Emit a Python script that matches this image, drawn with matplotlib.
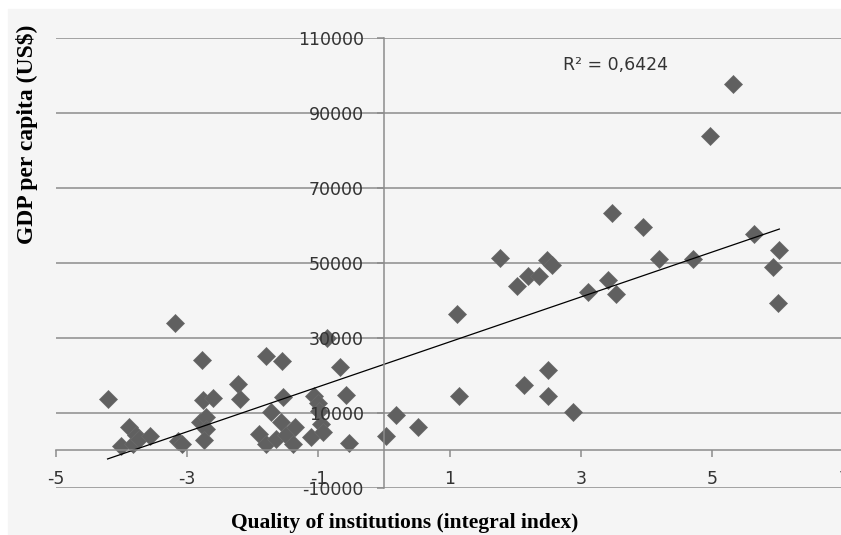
import numpy as np
import matplotlib
matplotlib.use("Agg")
import matplotlib.pyplot as plt
from matplotlib.patches import Rectangle

# quality of institutions (integral index) vs GDP per capita
quality = [
    -4.21, -4.00, -3.88, -3.83, -3.78, -3.73, -3.56, -3.18, -3.14, -3.08,
    -2.81, -2.77, -2.75, -2.71, -2.71, -2.74, -2.61, -2.23, -2.19, -1.90,
    -1.80, -1.79, -1.72, -1.64, -1.57, -1.55, -1.54, -1.49, -1.39, -1.36,
    -1.11, -1.06, -1.01, -0.99, -0.96, -0.93, -0.87, -0.67, -0.58, -0.53,
    0.03, 0.18, 0.52, 1.11, 1.14, 1.77, 2.03, 2.13, 2.19, 2.36,
    2.48, 2.49, 2.49, 2.56, 2.88, 3.11, 3.41, 3.47, 3.53, 3.95,
    4.19, 4.71, 4.96, 5.32, 5.63, 5.93, 6.02, 6.00,
]
gdp = [
    13600, 1100, 6200, 1800, 4000, 3000, 3800, 34000, 2500, 1600,
    7600, 24000, 13500, 8900, 5800, 2700, 14000, 17800, 13600, 4400,
    1800, 25100, 10200, 3100, 7600, 23800, 14200, 4000, 1800, 6200,
    3600, 14400, 12500, 10500, 7100, 4900, 30100, 22100, 14700, 1900,
    3700, 9500, 6200, 36300, 14600, 51400, 43800, 17500, 46500, 46500,
    50700, 21400, 14600, 49400, 10200, 42300, 45500, 63400, 41700, 59500,
    51100, 51100, 84000, 97700, 57700, 48800, 53400, 39200,
]
r2_label = "R\u00b2 = 0,6424"
x_ticks = [-5, -3, -1, 1, 3, 5, 7]
y_ticks = [-10000, 10000, 30000, 50000, 70000, 90000, 110000]

quality = np.array(quality)
gdp = np.array(gdp)

fig = plt.figure(figsize=(8.41, 5.35), dpi=100)
fig.patches.append(Rectangle((8 / 841, 0), 1, (535 - 9) / 535,
                             transform=fig.transFigure, color="#f5f5f5", zorder=-10))

ax = fig.add_axes([55.7 / 841, 47.3 / 535, 788 / 841, 449.4 / 535])
ax.set_facecolor("none")
ax.set_xlim(-5, 7)
ax.set_ylim(-10000, 110000)

for yv in y_ticks:
    ax.axhline(yv, color="#8c8c8c", lw=1.1, zorder=0.5)

ax.plot(quality, gdp, linestyle="none", marker="D", markersize=9.5,
        color="#606060", markeredgecolor="#6a6a6a", markeredgewidth=0.5, zorder=2)

# linear trend
k, b = np.polyfit(quality, gdp, 1)
xs = np.array([quality.min(), quality.max()])
ax.plot(xs, k * xs + b, color="black", lw=0.9, zorder=2.2)

ax.set_axisbelow(False)
for s in ["top", "right"]:
    ax.spines[s].set_visible(False)
ax.spines["left"].set_position(("data", 0))
ax.spines["bottom"].set_position(("data", 0))
for s in ["left", "bottom"]:
    ax.spines[s].set_color("#8c8c8c")
    ax.spines[s].set_linewidth(1.1)

ax.set_xticks(x_ticks)
ax.set_yticks(y_ticks)
ax.set_yticklabels([str(v) for v in y_ticks])
ax.set_xticklabels([str(v) for v in x_ticks])
ax.tick_params(axis="x", direction="out", length=5, width=1.1, color="#8c8c8c",
               labelsize=12.5, labelcolor="#333333", pad=9)
ax.tick_params(axis="y", direction="out", length=5, width=1.1, color="#8c8c8c",
               labelsize=12.5, labelcolor="#333333", pad=9.5)

ax.text(2.72, 102800, r2_label, fontsize=12.5, color="#333333",
        ha="left", va="center")

fig.text(405 / 841, 12 / 535, "Quality of institutions (integral index)",
         family="Liberation Serif", fontweight="bold", fontsize=15.5,
         ha="center", va="center")
fig.text(27 / 841, 401 / 535, "GDP per capita (US$)", rotation=90,
         family="Liberation Serif", fontweight="bold", fontsize=17,
         ha="center", va="center")

fig.savefig("out.png", dpi=100)
